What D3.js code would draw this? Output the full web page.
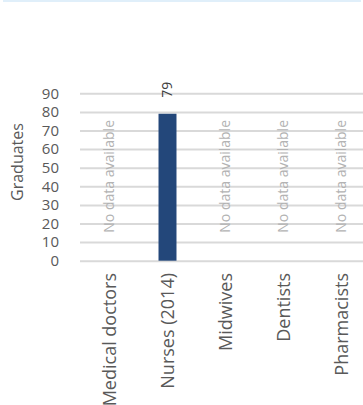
<!DOCTYPE html>
<html>
<head>
<meta charset="utf-8">
<script src="https://cdn.jsdelivr.net/npm/d3@7"></script>
<style>
  html, body { margin: 0; padding: 0; background: #fff; }
  svg { display: block; font-family: "Open Sans", "Noto Sans", sans-serif; }
</style>
</head>
<body>
<svg id="chart" width="363" height="405"></svg>
<script>
const categories = ["Medical doctors", "Nurses (2014)", "Midwives", "Dentists", "Pharmacists"];
const values = [null, 79, null, null, null];
const yTicks = [0, 10, 20, 30, 40, 50, 60, 70, 80, 90];
const yLabel = "Graduates";
const noDataText = "No data available";

const svg = d3.select("#chart");

// top strip
svg.append("rect").attr("x", 3).attr("y", 0).attr("width", 358).attr("height", 2).attr("fill", "#e0effa");

const y = d3.scaleLinear().domain([0, 90]).range([260.7, 93.3]);
const x = d3.scaleBand().domain(categories).range([80.5, 370.5]).paddingInner(0.69).paddingOuter(0.345);

// gridlines
const yAxis = d3.axisLeft(y).tickValues(yTicks).tickSize(-(363 - 80)).tickPadding(21);
const gAxis = svg.append("g").attr("transform", "translate(80,0)").call(yAxis);
gAxis.select(".domain").remove();
gAxis.selectAll(".tick line").attr("stroke", "#d9d9d9").attr("stroke-width", 2);
gAxis.selectAll(".tick text").attr("fill", "#595959").attr("font-size", 15)
  .attr("font-family", "\"Open Sans\", sans-serif");

// y label
svg.append("text").attr("transform", "translate(23,162) rotate(-90)")
  .attr("text-anchor", "middle").attr("fill", "#595959").attr("font-size", 16).text(yLabel);

const data = categories.map((c, i) => ({ c, v: values[i] }));

// bars
svg.selectAll("rect.bar").data(data.filter(d => d.v != null)).join("rect")
  .attr("class", "bar")
  .attr("x", d => x(d.c)).attr("width", x.bandwidth())
  .attr("y", d => y(d.v)).attr("height", d => y(0) - y(d.v))
  .attr("fill", "#23477a");

// value labels
svg.selectAll("text.val").data(data.filter(d => d.v != null)).join("text")
  .attr("class", "val")
  .attr("transform", d => `translate(${x(d.c) + x.bandwidth() / 2},${y(d.v) - 16}) rotate(-90)`)
  .attr("dy", "0.35em").attr("text-anchor", "start")
  .attr("fill", "#404040").attr("font-size", 14).text(d => d.v);

// no data labels
svg.selectAll("text.nd").data(data.filter(d => d.v == null)).join("text")
  .attr("class", "nd")
  .attr("transform", d => `translate(${x(d.c) + x.bandwidth() / 2},${y(0) - 28}) rotate(-90)`)
  .attr("dy", "0.35em").attr("text-anchor", "start")
  .attr("fill", "#b3b3b3").attr("font-size", 14).text(noDataText);

// category labels
svg.selectAll("text.cat").data(categories).join("text")
  .attr("class", "cat")
  .attr("transform", d => `translate(${x(d) + x.bandwidth() / 2},273) rotate(-90)`)
  .attr("dy", "0.35em").attr("text-anchor", "end")
  .attr("fill", "#595959").attr("font-size", 18).text(d => d);
</script>
</body>
</html>
